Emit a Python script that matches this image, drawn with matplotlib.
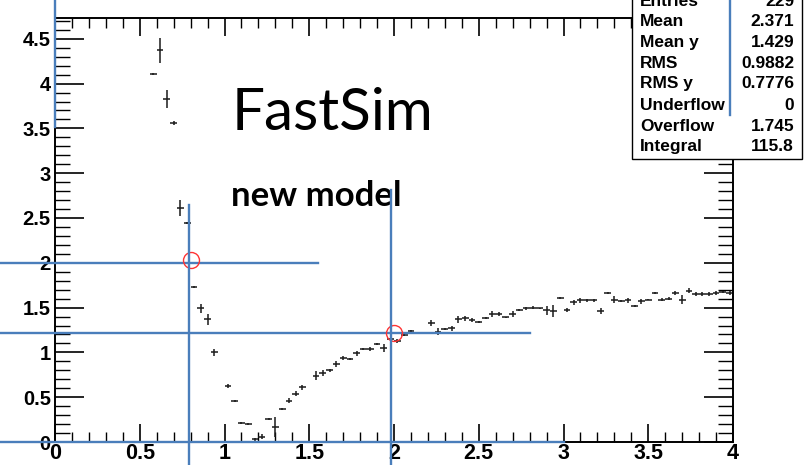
import matplotlib
matplotlib.use("Agg")
import matplotlib.pyplot as plt
from matplotlib.patches import Rectangle
from matplotlib.ticker import MultipleLocator, FormatStrFormatter

# profile bins (centre, mean, error)
x_bins = [0.58, 0.62, 0.66, 0.70, 0.74, 0.78, 0.82, 0.86, 0.90, 0.94,
          1.02, 1.06, 1.10, 1.14, 1.18, 1.22, 1.26, 1.30, 1.34, 1.38,
          1.42, 1.46, 1.54, 1.58, 1.62, 1.66, 1.70, 1.74, 1.78, 1.82,
          1.86, 1.90, 1.94, 1.98, 2.02, 2.06, 2.10, 2.14, 2.18, 2.22,
          2.26, 2.30, 2.34, 2.38, 2.42, 2.46, 2.50, 2.54, 2.58, 2.62,
          2.66, 2.70, 2.74, 2.78, 2.82, 2.86, 2.90, 2.94, 2.98, 3.02,
          3.06, 3.10, 3.14, 3.18, 3.22, 3.26, 3.30, 3.34, 3.38, 3.42,
          3.46, 3.50, 3.54, 3.58, 3.62, 3.66, 3.70, 3.74, 3.78, 3.82,
          3.86, 3.90, 3.94, 3.98]
y_mean = [4.11, 4.37, 3.83, 3.56, 2.61, 2.44, 1.73, 1.49, 1.37, 1.00,
          0.625, 0.46, 0.21, 0.20, 0.03, 0.06, 0.26, 0.17, 0.37, 0.46,
          0.54, 0.61, 0.74, 0.77, 0.80, 0.87, 0.94, 0.93, 0.99, 1.04,
          1.04, 1.09, 1.05, 1.15, 1.13, 1.19, 1.24, 1.22, 1.22, 1.33,
          1.23, 1.26, 1.27, 1.37, 1.38, 1.36, 1.34, 1.38, 1.43, 1.43,
          1.39, 1.43, 1.47, 1.49, 1.50, 1.49, 1.47, 1.46, 1.61, 1.47,
          1.56, 1.58, 1.58, 1.58, 1.46, 1.66, 1.59, 1.57, 1.58, 1.52,
          1.57, 1.59, 1.66, 1.59, 1.60, 1.66, 1.59, 1.69, 1.65, 1.65,
          1.65, 1.66, 1.67, 1.66]
y_err = [0.01, 0.14, 0.10, 0.02, 0.09, 0.01, 0.01, 0.05, 0.06, 0.04,
         0.02, 0.01, 0.01, 0.01, 0.02, 0.03, 0.01, 0.11, 0.01, 0.03,
         0.03, 0.03, 0.05, 0.03, 0.02, 0.03, 0.02, 0.01, 0.03, 0.01,
         0.02, 0.01, 0.04, 0.01, 0.02, 0.01, 0.01, 0.01, 0.01, 0.03,
         0.04, 0.01, 0.03, 0.04, 0.03, 0.02, 0.01, 0.01, 0.03, 0.02,
         0.01, 0.03, 0.01, 0.02, 0.02, 0.01, 0.05, 0.07, 0.01, 0.02,
         0.03, 0.03, 0.02, 0.02, 0.03, 0.01, 0.04, 0.01, 0.03, 0.01,
         0.03, 0.01, 0.01, 0.02, 0.02, 0.02, 0.05, 0.03, 0.02, 0.02,
         0.02, 0.02, 0.01, 0.02]
bin_half = 0.02

stat_names = ["Entries", "Mean", "Mean y", "RMS", "RMS y", "Underflow", "Overflow", "Integral"]
stat_values = ["229", "2.371", "1.429", "0.9882", "0.7776", "0", "1.745", "115.8"]

# hand-drawn guide lines and circles
guide_h = [(-0.33, 1.55, 2.0), (-0.33, 2.80, 1.22), (-0.33, 3.0, 0.0)]
guide_v = [(0.79, -0.27, 2.65), (1.98, -0.27, 2.81), (0.0, 3.52, 4.95), (3.98, 3.65, 4.95)]
circles_x = [0.80, 2.00]
circles_y = [2.03, 1.22]

W, H = 807, 465
fig = plt.figure(figsize=(W / 100, H / 100), dpi=100)
ax = fig.add_axes([55 / W, 23 / H, 678 / W, 424 / H])

ax.errorbar(x_bins, y_mean, yerr=y_err, xerr=bin_half, fmt="none",
            ecolor="#1a1a1a", elinewidth=1.1, capsize=0)

ax.set_xlim(0, 4)
ax.set_ylim(0, 4.732)
for s in ax.spines.values():
    s.set_linewidth(1.4)
    s.set_color("black")

ax.xaxis.set_major_locator(MultipleLocator(0.5))
ax.xaxis.set_minor_locator(MultipleLocator(0.1))
ax.yaxis.set_major_locator(MultipleLocator(0.5))
ax.yaxis.set_minor_locator(MultipleLocator(0.1))
ax.xaxis.set_major_formatter(FormatStrFormatter("%g"))
ax.yaxis.set_major_formatter(FormatStrFormatter("%g"))
ax.tick_params(axis="x", which="major", direction="in", length=13, width=1.2,
               top=True, pad=1)
ax.tick_params(axis="x", which="minor", direction="in", length=7, width=1.0, top=True)
ax.tick_params(axis="y", which="major", direction="in", length=21, width=1.2,
               right=True, pad=3)
ax.tick_params(axis="y", which="minor", direction="in", length=11, width=1.0, right=True)
for lab in ax.get_xticklabels():
    lab.set_fontfamily("Liberation Sans")
    lab.set_fontweight("bold")
    lab.set_fontsize(15.5)
for lab in ax.get_yticklabels():
    lab.set_fontfamily("Liberation Sans")
    lab.set_fontweight("bold")
    lab.set_fontsize(14.5)

ax.text(0.26, 0.775, "FastSim", transform=ax.transAxes, fontsize=42,
        family="Lato", ha="left", va="center")
ax.text(0.26, 0.58, "new model", transform=ax.transAxes, fontsize=25,
        family="Lato", fontweight="bold", ha="left", va="center")

blue = "#4a7ebb"
for x0, x1, y in guide_h:
    ax.plot([x0, x1], [y, y], color=blue, lw=1.7, clip_on=False, zorder=6)
for x, y0, y1 in guide_v:
    ax.plot([x, x], [y0, y1], color=blue, lw=1.7, clip_on=False, zorder=13)
ax.plot(circles_x, circles_y, "o", ms=11.5, mfc="none", mec="#ff3333", mew=1.0,
        clip_on=False, zorder=7)

# stats box
bx0 = (632 - 55) / 678
bx1 = (802 - 55) / 678
by0 = (442 - 159) / 424
ax.add_patch(Rectangle((bx0, by0), bx1 - bx0, 0.5, transform=ax.transAxes,
                       facecolor="white", edgecolor="black", lw=1.0,
                       clip_on=False, zorder=10))
row_px = [1.5, 22, 42.5, 63, 83.5, 106, 126.5, 146]
for name, val, py in zip(stat_names, stat_values, row_px):
    yy = (442 - py) / 424
    ax.text((640 - 55) / 678, yy, name, transform=ax.transAxes, fontsize=12.5,
            family="Liberation Sans", fontweight="bold", ha="left", va="center",
            clip_on=False, zorder=11)
    ax.text((794 - 55) / 678, yy, val, transform=ax.transAxes, fontsize=12.5,
            family="Liberation Sans", fontweight="bold", ha="right", va="center",
            clip_on=False, zorder=11)

fig.savefig("out.png", dpi=100)
